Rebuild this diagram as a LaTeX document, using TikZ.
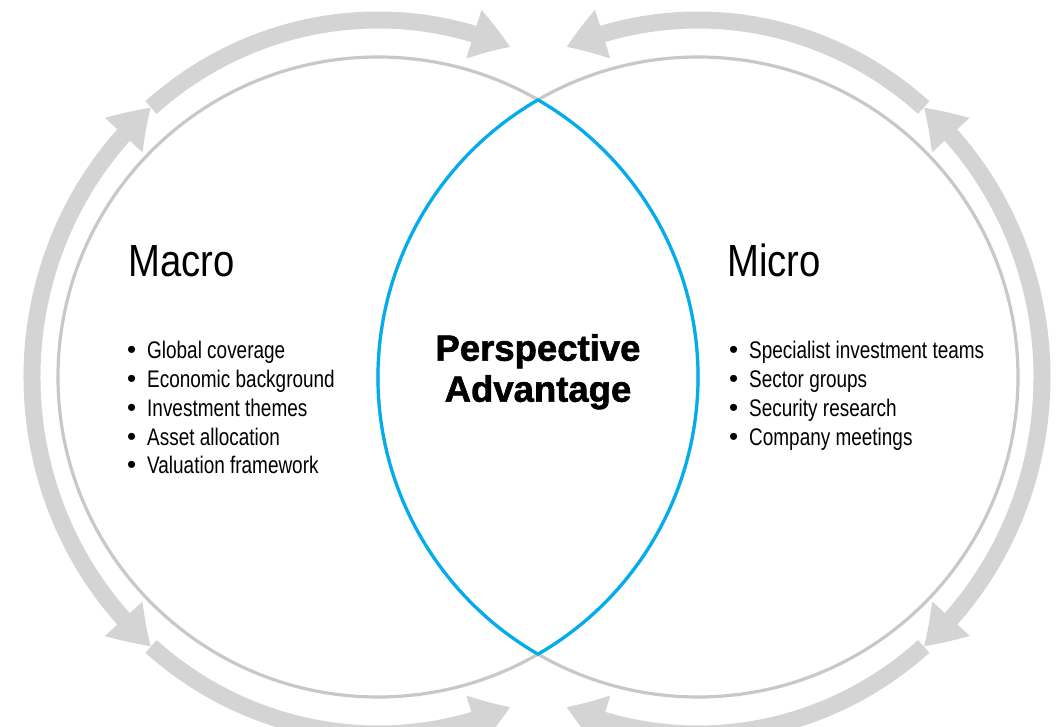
\documentclass[tikz,border=0pt]{standalone}
\usepackage{fontspec}
\setmainfont{Liberation Sans}[FakeStretch=0.79]
\newfontfamily\titlefont{Liberation Sans}[FakeStretch=0.85]
\newfontfamily\headfont{Liberation Sans}[FakeBold=1.6]
\newfontfamily\dotfont{Liberation Sans}
\usetikzlibrary{arrows.meta,bending}

\definecolor{flowgray}{HTML}{D4D4D4}
\definecolor{ringgray}{HTML}{C8C8C8}
\definecolor{lensblue}{HTML}{00AEEF}

\newcommand{\dotmark}{{\dotfont\fontsize{26}{29}\selectfont\textbullet}\hspace{10.9pt}}

\begin{document}
\begin{tikzpicture}[x=1pt, y=1pt,
    flow/.style={flowgray, line width=17pt},
    ring/.style={ringgray, line width=3.2pt},
    lens/.style={lensblue, line width=3.2pt},
    heading/.style={inner sep=0pt, anchor=base west, font=\titlefont\fontsize{45}{54}\selectfont},
    itemtext/.style={inner sep=0pt, anchor=base west, font=\fontsize{24}{29}\selectfont},
    bigword/.style={inner sep=0pt, anchor=base, font=\headfont\bfseries\fontsize{36.5}{41}\selectfont},
    >={Triangle[length=39pt, width=48pt, bend]}]

\useasboundingbox (-538,-350) rectangle (522,377);

% Circulating arrows, left circle
\draw[flow, <->] (-160,0) ++(131:346 and 357) arc[start angle=131, end angle=229, x radius=346, y radius=357];
\draw[flow, ->] (-160,0) ++(131:346 and 357) arc[start angle=131, end angle=67.5, x radius=346, y radius=357];
\draw[flow, ->] (-160,0) ++(229:346 and 357) arc[start angle=229, end angle=292.5, x radius=346, y radius=357];

% Circulating arrows, right circle
\draw[flow, <->] (160,0) ++(49:344 and 357) arc[start angle=49, end angle=-49, x radius=344, y radius=357];
\draw[flow, ->] (160,0) ++(49:344 and 357) arc[start angle=49, end angle=112.5, x radius=344, y radius=357];
\draw[flow, ->] (160,0) ++(-49:344 and 357) arc[start angle=-49, end angle=-112.5, x radius=344, y radius=357];

% Two overlapping circles
\draw[ring] (-160,0) circle[radius=320];
\draw[ring] (160,0) circle[radius=320];

% Overlap (blue lens)
\draw[lens] (0,277.1) arc[start angle=120, end angle=240, radius=320]
    arc[start angle=-60, end angle=60, radius=320] -- cycle;

% Headings
\node[heading] (macro) at (-410,100) {Macro};
\node[heading] (micro) at (189,100) {Micro};

% Bullet lists
\foreach \txt [count=\i] in {Global coverage, Economic background, Investment themes, Asset allocation, Valuation framework} {
    \node[itemtext] (macro\i) at (-411,{46.7-28.7*\i}) {\dotmark\txt};
}
\foreach \txt [count=\i] in {Specialist investment teams, Sector groups, Security research, Company meetings} {
    \node[itemtext] (micro\i) at (191,{46.7-28.7*\i}) {\dotmark\txt};
}

% Centre label
\node[bigword] (persp) at (0,16.3) {Perspective};
\node[bigword] (advan) at (0,-24.7) {Advantage};

\end{tikzpicture}
\end{document}
